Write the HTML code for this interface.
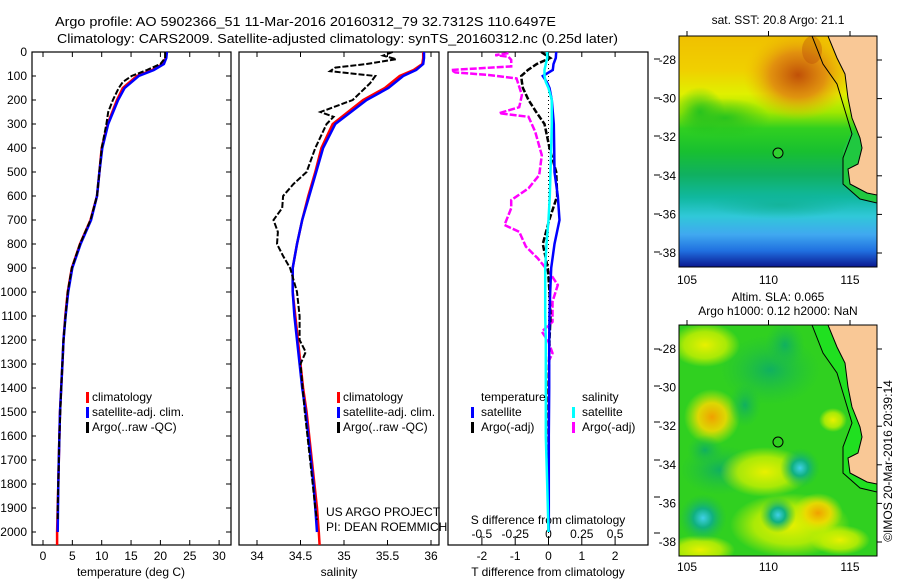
<!DOCTYPE html>
<html><head><meta charset="utf-8"><style>
html,body{margin:0;padding:0;background:#fff;}
svg{display:block;font-family:"Liberation Sans",sans-serif;}
text{font-size:12px;fill:#000;}
</style></head><body>
<svg id="fig" width="900" height="580" viewBox="0 0 900 580" xmlns="http://www.w3.org/2000/svg">
<defs>
<linearGradient id="sstBase" x1="0" y1="0" x2="0" y2="1">
<stop offset="0" stop-color="#f0c000"/><stop offset="0.15" stop-color="#f0d000"/><stop offset="0.25" stop-color="#e0f000"/>
<stop offset="0.33" stop-color="#a0e800"/><stop offset="0.4" stop-color="#30d020"/><stop offset="0.5" stop-color="#18c030"/>
<stop offset="0.6" stop-color="#10b060"/><stop offset="0.7" stop-color="#10b8a0"/><stop offset="0.78" stop-color="#30c8d8"/>
<stop offset="0.86" stop-color="#40a8f0"/><stop offset="0.93" stop-color="#2070e0"/><stop offset="1" stop-color="#0a1890"/>
</linearGradient>
<radialGradient id="orangeBlob"><stop offset="0" stop-color="#c05008"/><stop offset="0.5" stop-color="#e08a10" stop-opacity="0.9"/><stop offset="1" stop-color="#f0c000" stop-opacity="0"/></radialGradient>
<radialGradient id="greenBlob"><stop offset="0" stop-color="#20c020" stop-opacity="0.9"/><stop offset="1" stop-color="#20c020" stop-opacity="0"/></radialGradient>
<radialGradient id="tealSoft"><stop offset="0" stop-color="#10b090" stop-opacity="0.7"/><stop offset="1" stop-color="#10b090" stop-opacity="0"/></radialGradient>
<radialGradient id="yelBlob"><stop offset="0" stop-color="#e8f000"/><stop offset="0.6" stop-color="#c8f000" stop-opacity="0.8"/><stop offset="1" stop-color="#c8f000" stop-opacity="0"/></radialGradient>
<radialGradient id="orBlob"><stop offset="0" stop-color="#f0a000"/><stop offset="0.5" stop-color="#f0d800" stop-opacity="0.9"/><stop offset="1" stop-color="#d8f000" stop-opacity="0"/></radialGradient>
<radialGradient id="tealBlob"><stop offset="0" stop-color="#40d0e8"/><stop offset="0.4" stop-color="#10b080"/><stop offset="1" stop-color="#20c040" stop-opacity="0"/></radialGradient>
<radialGradient id="dgBlob"><stop offset="0" stop-color="#10b060"/><stop offset="1" stop-color="#20c040" stop-opacity="0"/></radialGradient>
<clipPath id="m1clip"><rect x="679" y="36" width="198" height="231"/></clipPath>
<clipPath id="m2clip"><rect x="679" y="325" width="198" height="231"/></clipPath>
</defs>

<text x="55" y="26" textLength="501" lengthAdjust="spacingAndGlyphs" style="font-size:13px">Argo profile: AO 5902366_51 11-Mar-2016 20160312_79 32.7312S 110.6497E</text>
<text x="57" y="43" textLength="561" lengthAdjust="spacingAndGlyphs" style="font-size:13px">Climatology: CARS2009. Satellite-adjusted climatology: synTS_20160312.nc (0.25d later)</text>

<g id="p1"></g>
<g id="p2"></g>
<g id="p3"></g>

<!-- SST map -->
<g>
<text x="778" y="24" text-anchor="middle">sat. SST: 20.8 Argo: 21.1</text>
<g clip-path="url(#m1clip)">
<rect x="679" y="36" width="198" height="231" fill="url(#sstBase)"/>
<ellipse cx="798" cy="75" rx="55" ry="45" fill="url(#orangeBlob)"/>
<ellipse cx="812" cy="50" rx="10" ry="14" fill="#b84808" opacity="0.35"/>
<ellipse cx="725" cy="118" rx="45" ry="20" fill="url(#greenBlob)"/>
<ellipse cx="700" cy="112" rx="25" ry="25" fill="url(#greenBlob)"/>
<ellipse cx="780" cy="205" rx="70" ry="14" fill="url(#tealSoft)"/>
<polygon points="843,150 843,184 860,199 877,203 877,195 867,193 850,184 848,169 858,164 862,148 860,138 852,130" fill="#20c840"/>
<polygon points="828,36 837,58 845,74 848,98 852,118 860,138 862,148 858,164 848,169 850,184 867,193 877,195 877,36" fill="#f9c896"/>
<polyline points="828,36 837,58 845,74 848,98 852,118 860,138 862,148 858,164 848,169 850,184 867,193 877,195" fill="none" stroke="#000" stroke-width="1"/>
<polyline points="812,36 823,64 837,84 843,104 852,134 843,158 843,184 860,199 877,203" fill="none" stroke="#000" stroke-width="1"/>
</g>
<circle cx="778" cy="153" r="5" fill="#30d030" stroke="#000"/>
<rect x="679" y="36" width="198" height="231" fill="none" stroke="#000"/>
</g>

<!-- SLA map -->
<g>
<text x="778" y="301" text-anchor="middle">Altim. SLA: 0.065</text>
<text x="778" y="315" text-anchor="middle">Argo h1000: 0.12 h2000: NaN</text>
<g clip-path="url(#m2clip)">
<rect x="679" y="325" width="198" height="231" fill="#30d020"/>
<ellipse cx="770" cy="370" rx="50" ry="35" fill="url(#dgBlob)"/>
<ellipse cx="720" cy="470" rx="40" ry="25" fill="url(#dgBlob)"/>
<ellipse cx="705" cy="345" rx="35" ry="22" fill="url(#yelBlob)"/>
<ellipse cx="712" cy="417" rx="28" ry="28" fill="url(#orBlob)"/>
<ellipse cx="765" cy="472" rx="45" ry="25" fill="url(#yelBlob)"/>
<ellipse cx="833" cy="420" rx="14" ry="12" fill="url(#yelBlob)"/>
<ellipse cx="790" cy="525" rx="60" ry="32" fill="url(#yelBlob)"/>
<ellipse cx="818" cy="513" rx="25" ry="20" fill="url(#orBlob)"/>
<ellipse cx="700" cy="550" rx="35" ry="15" fill="url(#yelBlob)"/>
<ellipse cx="840" cy="540" rx="30" ry="15" fill="url(#yelBlob)"/>
<ellipse cx="703" cy="518" rx="24" ry="24" fill="url(#tealBlob)"/>
<ellipse cx="778" cy="515" rx="18" ry="18" fill="url(#tealBlob)"/>
<ellipse cx="800" cy="468" rx="20" ry="20" fill="url(#tealBlob)"/>
<ellipse cx="745" cy="405" rx="16" ry="22" fill="url(#dgBlob)"/>
<ellipse cx="785" cy="345" rx="20" ry="24" fill="url(#dgBlob)"/>
<ellipse cx="705" cy="450" rx="18" ry="15" fill="url(#dgBlob)"/>
<polygon points="812,325 823,353 837,373 843,393 852,423 843,447 843,473 860,488 877,492 877,484 867,482 850,473 848,458 858,453 862,437 860,427 852,407 848,387 845,363 837,347 828,325" fill="#20e020"/>
<polygon points="828,325 837,347 845,363 848,387 852,407 860,427 862,437 858,453 848,458 850,473 867,482 877,484 877,325" fill="#f9c896"/>
<polyline points="828,325 837,347 845,363 848,387 852,407 860,427 862,437 858,453 848,458 850,473 867,482 877,484" fill="none" stroke="#000"/>
<polyline points="812,325 823,353 837,373 843,393 852,423 843,447 843,473 860,488 877,492" fill="none" stroke="#000"/>
</g>
<circle cx="778" cy="442" r="5" fill="none" stroke="#000"/>
<rect x="679" y="325" width="198" height="231" fill="none" stroke="#000"/>
</g>
<g id="mapAxes"></g>
<text transform="translate(892,461) rotate(-90)" text-anchor="middle">©IMOS 20-Mar-2016 20:39:14</text>
</svg>
<script>
// ---- data ----
const depthClim = [0,25,50,75,100,150,200,300,400,500,600,700,800,900,1000,1100,1200,1300,1400,1500,1600,1700,1800,1900,2000,2054];
const tempClim = [21.0,20.9,20.4,18.6,16.0,13.6,12.6,11.0,10.0,9.6,9.2,8.1,6.3,4.9,4.2,3.8,3.5,3.3,3.1,2.9,2.8,2.7,2.6,2.5,2.4,2.4];
const tempSat = [21.1,21.0,20.6,18.9,16.3,13.9,12.8,11.1,10.1,9.6,9.2,8.2,6.4,5.0,4.3,3.85,3.5,3.3,3.1,2.9,2.8,2.7,2.6,2.55,2.5];
const depthArgoT = [0,25,50,75,100,125,150,200,250,300,400,500,600,700,800,900,1000,1200,1400,1600,1800,1900,1950];
const tempArgo = [20.8,20.8,20.0,17.7,15.1,13.6,12.9,11.9,11.1,10.8,10.0,9.6,9.2,8.1,6.3,4.9,4.2,3.5,3.1,2.8,2.6,2.5,2.5];
const salClim = [35.91,35.91,35.90,35.80,35.64,35.47,35.22,34.87,34.74,34.67,34.59,34.52,34.46,34.41,34.41,34.44,34.47,34.50,34.53,34.57,34.60,34.63,34.66,34.69,34.71,34.72];
const salSat = [35.92,35.92,35.91,35.83,35.68,35.51,35.26,34.90,34.76,34.68,34.60,34.52,34.46,34.41,34.41,34.43,34.46,34.49,34.52,34.56,34.59,34.62,34.65,34.67,34.69];
const depthArgoS = [0,15,30,50,65,80,90,100,130,200,250,270,300,400,500,550,600,650,700,750,800,850,900,1000,1100,1200,1250,1300,1500,1700,1900,1950];
const salArgo = [35.56,35.45,35.60,35.26,34.90,34.84,35.10,35.36,35.30,35.10,34.73,34.88,34.80,34.67,34.57,34.42,34.30,34.29,34.19,34.24,34.23,34.30,34.38,34.46,34.49,34.49,34.56,34.50,34.55,34.61,34.67,34.69];
const depthDiff = [0,25,50,75,100,125,150,200,250,300,400,500,600,700,800,900,1000,1100,1200,1400,1600,1800,2000];
const tDiffSat = [0.23,0.22,0.15,0.13,-0.17,-0.05,0.03,0.10,0.13,0.16,0.17,0.18,0.28,0.33,0.18,0.08,0.05,0.03,0.02,0.02,0.01,0.01,0.01];
const tDiffArgo = [-0.22,0.05,-0.35,-0.62,-0.82,-0.80,-0.77,-0.60,-0.37,-0.12,0.03,0.23,0.26,0.02,-0.17,-0.02,0.03,0.06,0.03,0.0,0.0,0.0,0.0];
const sDiffSat = [-0.01,-0.01,-0.02,-0.03,-0.03,-0.02,0.0,0.025,0.025,0.025,0.02,0.015,0.01,0.0,-0.015,-0.025,-0.025,-0.025,-0.02,-0.02,-0.02,-0.01,0.0];
const depthSArgo = [5,13,20,33,60,75,85,96,110,179,230,255,270,332,430,513,568,617,651,721,749,811,860,894,929,971,1040,1124,1165,1207,1255,1290];
const sDiffArgo = [-0.3,-0.4,-0.3,-0.28,-0.28,-0.73,-0.7,-0.45,-0.24,-0.2,-0.22,-0.37,-0.15,-0.1,-0.05,-0.07,-0.15,-0.28,-0.28,-0.33,-0.22,-0.17,-0.08,-0.03,0.02,0.07,0.03,0.03,-0.05,0.0,0.03,0.0];
const depthTicks = [0,100,200,300,400,500,600,700,800,900,1000,1100,1200,1300,1400,1500,1600,1700,1800,1900,2000];
const tempTicks = [0,5,10,15,20,25,30];
const salTicks = [34,34.5,35,35.5,36];
const salTickLabels = ["34","34.5","35","35.5","36"];
const tdTicks = [-2,-1,0,1,2];
const sdTicks = [-0.5,-0.25,0,0.25,0.5];
const sdTickLabels = ["-0.5","-0.25","0","0.25","0.5"];
const latTicks = [-28,-30,-32,-34,-36,-38];
const lonTicks = [105,110,115];

// ---- scales ----
const TOP=52, BOT=545;
const yD = d => 52 + d*0.24;
const xT = t => 43 + t*5.87;
const xS = s => 257 + (s-34)*87;
const xTd = t => 548.5 + t*33.3;
const xSd = s => 548.5 + s*133.2;
const NS="http://www.w3.org/2000/svg";
function mk(tag, parent, attrs){const e=document.createElementNS(NS,tag);for(const k in attrs)e.setAttribute(k,attrs[k]);parent.appendChild(e);return e;}
function line(parent,xs,ys,xf,color,w,dash,name){
  let d="";for(let i=0;i<Math.min(xs.length,ys.length);i++){d+=(i?"L":"M")+xf(xs[i]).toFixed(1)+","+yD(ys[i]).toFixed(1);}
  const p=mk("path",parent,{d:d,fill:"none",stroke:color,"stroke-width":w});
  if(dash)p.setAttribute("stroke-dasharray",dash);
  
  
  return p;
}
function txt(parent,x,y,s,anchor,name,size){const t=mk("text",parent,{x:x,y:y});t.textContent=s;if(anchor)t.setAttribute("text-anchor",anchor);if(size)t.style.fontSize=size;
  
  
  return t;}
function frame(parent,x0,x1,name){const r=mk("rect",parent,{x:x0,y:TOP,width:x1-x0,height:BOT-TOP,fill:"none",stroke:"#000","stroke-width":1.2});
  
  }
function tick(parent,x1,y1,x2,y2){mk("line",parent,{x1:x1,y1:y1,x2:x2,y2:y2,stroke:"#000","stroke-width":1});}
function legBar(parent,x,y,color,name){const r=mk("rect",parent,{x:x,y:y-9,width:3,height:11,fill:color});
  
  }

// ---- panel 1: temperature ----
const p1=document.getElementById("p1");
frame(p1,32,231,"temperature-frame");
depthTicks.forEach(d=>{txt(p1,27,yD(d)+4,String(d),"end","depth-tick-label");tick(p1,226,yD(d),231,yD(d));tick(p1,32,yD(d),36,yD(d));});
tempTicks.forEach(t=>{txt(p1,xT(t),560,String(t),"middle","temp-tick-label");tick(p1,xT(t),BOT,xT(t),BOT-5);tick(p1,xT(t),TOP,xT(t),TOP+5);});
txt(p1,131,576,"temperature (deg C)","middle","temperature-axis-title");
line(p1,tempClim,depthClim,xT,"#ff0000",2.5,null,"temp-climatology-line");
line(p1,tempSat,depthClim,xT,"#0000ff",2.5,null,"temp-satellite-line");
line(p1,tempArgo,depthArgoT,xT,"#000",2,"6 2","temp-argo-line");
legBar(p1,86,401,"#ff0000","legend-climatology-marker");txt(p1,92,401,"climatology",null,"legend-climatology");
legBar(p1,86,416,"#0000ff","legend-satellite-marker");txt(p1,92,416,"satellite-adj. clim.",null,"legend-satellite");
legBar(p1,86,431,"#000","legend-argo-marker");txt(p1,92,431,"Argo(..raw -QC)",null,"legend-argo");

// ---- panel 2: salinity ----
const p2=document.getElementById("p2");
frame(p2,239,439,"salinity-frame");
salTicks.forEach((s,i)=>{txt(p2,xS(s),560,salTickLabels[i],"middle","salinity-tick-label");tick(p2,xS(s),BOT,xS(s),BOT-5);tick(p2,xS(s),TOP,xS(s),TOP+5);});
txt(p2,339,576,"salinity","middle","salinity-axis-title");
line(p2,salClim,depthClim,xS,"#ff0000",2.5,null,"sal-climatology-line");
line(p2,salSat,depthClim,xS,"#0000ff",2.5,null,"sal-satellite-line");
line(p2,salArgo,depthArgoS,xS,"#000",2,"6 2","sal-argo-line");
legBar(p2,337,401,"#ff0000","legend2-climatology-marker");txt(p2,343,401,"climatology",null,"legend2-climatology");
legBar(p2,337,416,"#0000ff","legend2-satellite-marker");txt(p2,343,416,"satellite-adj. clim.",null,"legend2-satellite");
legBar(p2,337,431,"#000","legend2-argo-marker");txt(p2,343,431,"Argo(..raw -QC)",null,"legend2-argo");
txt(p2,326,516,"US ARGO PROJECT",null,"project-label");
txt(p2,326,531,"PI: DEAN ROEMMICH",null,"pi-label");

// ---- panel 3: differences ----
const p3=document.getElementById("p3");
mk("rect",p3,{x:448,y:TOP,width:200,height:BOT-TOP,fill:"#fff"});
frame(p3,448,648,"difference-frame");
const zl=mk("line",p3,{x1:xTd(0),y1:TOP,x2:xTd(0),y2:BOT,stroke:"#000","stroke-width":1,"stroke-dasharray":"1 3"});


tdTicks.forEach(t=>{txt(p3,xTd(t),560,String(t),"middle","tdiff-tick-label");tick(p3,xTd(t),BOT,xTd(t),BOT-5);tick(p3,xTd(t),TOP,xTd(t),TOP+5);});
sdTicks.forEach((s,i)=>{txt(p3,xSd(s),538,sdTickLabels[i],"middle","sdiff-tick-label");tick(p3,xSd(s),540,xSd(s),536);});
txt(p3,548,524,"S difference from climatology","middle","sdiff-axis-title");
txt(p3,548,576,"T difference from climatology","middle","tdiff-axis-title");
[59,98,136,175,214,252,349,386,422,460,497,533].forEach(y=>tick(p3,654,y,660,y));
line(p3,sDiffArgo,depthSArgo,xSd,"#ff00ff",2.5,"7 2","sdiff-argo-line");
line(p3,tDiffArgo,depthDiff,xTd,"#000",2.5,"6 2","tdiff-argo-line");
line(p3,tDiffSat,depthDiff,xTd,"#0000ff",2.5,null,"tdiff-satellite-line");
line(p3,sDiffSat,depthDiff,xSd,"#00ffff",2.5,null,"sdiff-satellite-line");
txt(p3,481,401,"temperature",null,"legend3-temperature-header");
legBar(p3,471,416,"#0000ff","legend3-tsat-marker");txt(p3,481,416,"satellite",null,"legend3-tsat");
legBar(p3,471,431,"#000","legend3-targo-marker");txt(p3,481,431,"Argo(-adj)",null,"legend3-targo");
txt(p3,582,401,"salinity",null,"legend3-salinity-header");
legBar(p3,572,416,"#00ffff","legend3-ssat-marker");txt(p3,582,416,"satellite",null,"legend3-ssat");
legBar(p3,572,431,"#ff00ff","legend3-sargo-marker");txt(p3,582,431,"Argo(-adj)",null,"legend3-sargo");

// ---- map axes ----
const ma=document.getElementById("mapAxes");
const lonX = l => 687 + (l-105)*16.3;
[[36,284],[325,571]].forEach(([top,labY])=>{
  const latY = la => top + 24 + (-28-la)*19.3;
  latTicks.forEach(la=>{txt(ma,676,latY(la)+4,String(la),"end","map-lat-label");tick(ma,877,latY(la),882,latY(la));});
  lonTicks.forEach(lo=>{txt(ma,lonX(lo),labY,String(lo),"middle","map-lon-label");tick(ma,lonX(lo),top,lonX(lo),top-5);});
});
</script>
</body></html>
